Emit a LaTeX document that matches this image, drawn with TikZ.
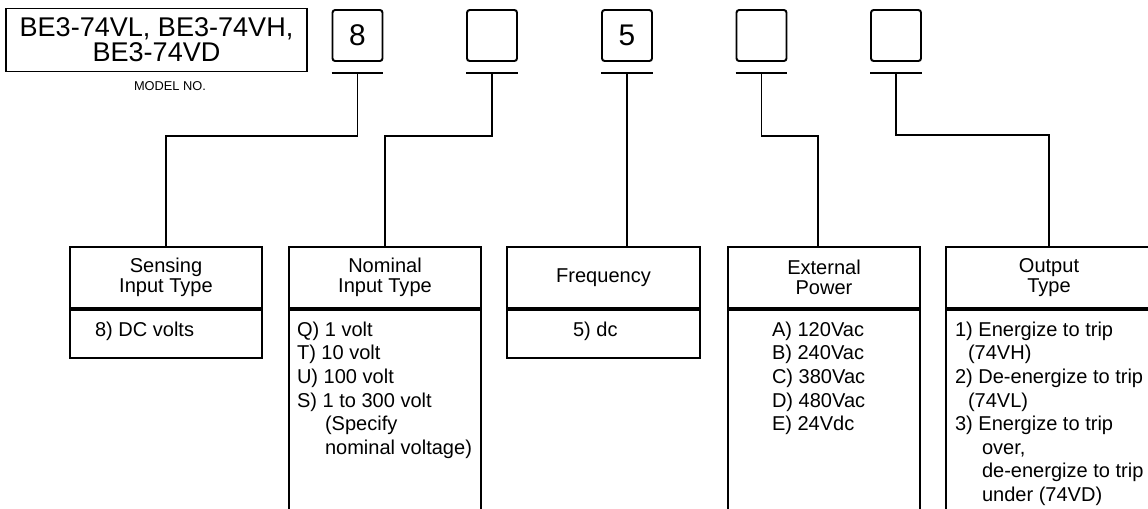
\documentclass[tikz,border=0pt]{standalone}
\usepackage{fontspec}
\setmainfont{Liberation Sans}
\usetikzlibrary{positioning}
\newcommand\tightlines{\lineskiplimit=-10pt\relax}

\begin{document}
\begin{tikzpicture}[x=0.02cm, y=-0.02cm, line width=1.1pt, every node/.style={font=\fontsize{11.4}{13.4}\selectfont}]
  \tikzset{digbox/.style={draw, rounded corners=1.5pt, minimum width=1cm, minimum height=1.02cm, inner sep=0pt,
                          font=\fontsize{17}{20}\selectfont},
           bar/.style={minimum width=1cm, minimum height=0pt, inner sep=0pt},
           hdr/.style={draw, minimum height=1.22cm, align=center, inner sep=0pt,
                       font={\fontsize{11.4}{11.4}\selectfont\tightlines}},
           bdy/.style={draw, anchor=north, inner sep=0pt},
           lst/.style={anchor=north west, align=left, inner sep=0pt}}
  \useasboundingbox (0,0) rectangle (1148,508);
  \clip (0,0) rectangle (1148,508);
  \node[draw, minimum width=6.02cm, minimum height=1.26cm, align=center, inner sep=0pt,
        font={\fontsize{15.4}{14.4}\selectfont\tightlines}] (model) at (156.5,40) {BE3-74VL, BE3-74VH,\\BE3-74VD};
  \node[font=\fontsize{7.3}{9}\selectfont] (modelno) at (170,86) {MODEL NO.};
  \node[digbox] (d1) at (357.5,35.5) {8};
  \node[digbox] (d2) at (492,35.5) {};
  \node[digbox] (d3) at (627,35.5) {5};
  \node[digbox] (d4) at (761.5,35.5) {};
  \node[digbox] (d5) at (896,35.5) {};
  \node[bar] (t1) at (357.5,73) {};
  \node[bar] (t2) at (492,73) {};
  \node[bar] (t3) at (627,73) {};
  \node[bar] (t4) at (761.5,73) {};
  \node[bar] (t5) at (896,73) {};
  \draw (t1.west) -- (t1.east);
  \draw (t2.west) -- (t2.east);
  \draw (t3.west) -- (t3.east);
  \draw (t4.west) -- (t4.east);
  \draw (t5.west) -- (t5.east);
  \node[hdr, minimum width=3.84cm] (sensh) at (166,277.5) {Sensing\\Input Type};
  \node[bdy, minimum width=3.84cm, minimum height=0.96cm] (sensb) at (sensh.south) {};
  \node[hdr, minimum width=3.84cm] (nomh) at (385,277.5) {Nominal\\Input Type};
  \node[bdy, minimum width=3.84cm, minimum height=4.6cm] (nomb) at (nomh.south) {};
  \node[hdr, minimum width=3.86cm] (freqh) at (603.5,277.5) {Frequency};
  \node[bdy, minimum width=3.86cm, minimum height=0.96cm] (freqb) at (freqh.south) {};
  \node[hdr, minimum width=3.84cm] (exth) at (824,277.5) {External\\Power};
  \node[bdy, minimum width=3.84cm, minimum height=4.6cm] (extb) at (exth.south) {};
  \node[hdr, minimum width=4.12cm] (outh) at (1049,277.5) {Output\\Type};
  \node[bdy, minimum width=4.12cm, minimum height=4.6cm] (outb) at (outh.south) {};
  \draw (t1.center) -- ++(0,63) -| (sensh.north);
  \draw (t2.center) -- ++(0,63) -| (nomh.north);
  \draw (t3.center) -- (t3.center |- freqh.north);
  \draw (t4.center) -- ++(0,63) -| ([xshift=-0.12cm]exth.north);
  \draw (t5.center) -- ++(0,62) -| (outh.north);
  \node[lst] (sensl) at ([shift={(25,12)}]sensb.north west) {8) DC volts};
  \node[lst] (noml) at ([shift={(8,12)}]nomb.north west)
        {Q) 1 volt\\T) 10 volt\\U) 100 volt\\S) 1 to 300 volt\\\hspace*{0.56cm}(Specify\\\hspace*{0.56cm}nominal voltage)};
  \node[lst] (freql) at ([shift={(66,12)}]freqb.north west) {5) dc};
  \node[lst] (extl) at ([shift={(44,12)}]extb.north west)
        {A) 120Vac\\B) 240Vac\\C) 380Vac\\D) 480Vac\\E) 24Vdc};
  \node[lst] (outl) at ([shift={(9,12)}]outb.north west)
        {1) Energize to trip\\\hspace*{0.26cm}(74VH)\\2) De-energize to trip\\\hspace*{0.26cm}(74VL)\\3) Energize to trip\\
         \hspace*{0.54cm}over,\\\hspace*{0.54cm}de-energize to trip\\\hspace*{0.54cm}under (74VD)};
\end{tikzpicture}
\end{document}
